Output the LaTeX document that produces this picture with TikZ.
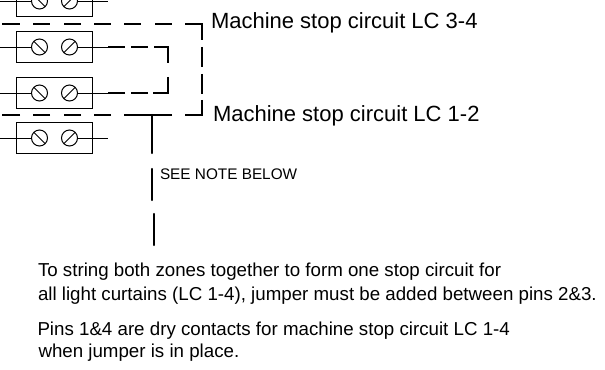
\documentclass[tikz,border=0pt]{standalone}
\usepackage{fontspec}
\setmainfont{Liberation Sans}
\tikzset{
 x=0.75pt,y=-0.75pt,
 blockbox/.style={draw,line width=0.75pt,minimum width=57pt,minimum height=23pt,inner sep=0pt,outer sep=0pt},
 screw/.style={draw,circle,line width=0.75pt,minimum size=12pt,inner sep=0pt,outer sep=0pt},
 wire/.style={line width=0.6pt},
 heavy/.style={line width=2.2pt},
 leader/.style={line width=1.6pt,line cap=round},
 lab/.style={inner sep=0pt,outer sep=0pt,anchor=base west,font=\fontsize{16.5pt}{18pt}\selectfont},
 small/.style={inner sep=0pt,outer sep=0pt,anchor=base west,font=\fontsize{11.5pt}{13pt}\selectfont},
 note/.style={inner sep=0pt,outer sep=0pt,anchor=base west,font=\fontsize{14.04pt}{16pt}\selectfont}
}
\newcommand{\termblock}[2]{%
 \node[blockbox] (b#1) at (54,#2) {};
 \node[screw] (l#1) at (39.5,#2) {};
 \node[screw] (r#1) at (69.5,#2) {};
 \coordinate (wl#1) at (0,#2);
 \coordinate (wr#1) at (108,#2);
 \draw[wire] (wl#1) -- (l#1);
 \draw[wire] (r#1) -- (wr#1);
 \draw[wire] (l#1.135) -- (l#1.-45);
 \draw[wire] (r#1.45) -- (r#1.-135);
}
\begin{document}
\begin{tikzpicture}
\useasboundingbox (0,0) rectangle (605,370);
\begin{scope}
\clip (0,0) rectangle (605,370);
\termblock{a}{1}
\end{scope}
\termblock{b}{47}
\termblock{c}{93}
\termblock{d}{138}
% outer dashed loop
\coordinate (tl) at (2,24);
\coordinate (tr) at (202,24);
\coordinate (br) at (202,115);
\coordinate (bl) at (2,115);
\draw[heavy,dash pattern=on 13.5pt off 9.75pt on 12.75pt off 10.5pt on 12.75pt off 9.75pt on 12.75pt off 9.75pt on 12.75pt off 10.5pt on 12.75pt off 9.75pt on 24.75pt off 5.25pt on 15pt off 5.25pt on 15pt off 4.5pt on 24pt off 9.75pt on 36pt off 9.75pt on 12.75pt off 9.75pt on 12.75pt off 10.5pt on 12.75pt off 9.75pt on 13.5pt off 30pt]
 (tl) -- (tr) -- (br) -- (bl);
% inner dashed jumper
\coordinate (ic1) at (168,47);
\coordinate (ic2) at (168,93);
\draw[heavy,dash pattern=on 12.75pt off 4.5pt on 12.75pt off 4.5pt on 22.5pt off 10.5pt on 23.25pt off 3.75pt on 12.75pt off 4.5pt on 13.5pt off 30pt]
 (wrb) -- (ic1) -- (ic2) -- (wrc);
% note leader
\coordinate (n0) at (152,115);
\coordinate (n1) at (152,153);
\coordinate (n2) at (152,169);
\coordinate (n3) at (152,200);
\coordinate (n4) at (154,214);
\coordinate (n5) at (154,245);
\draw[leader] (n0) -- (n1);
\draw[leader] (n2) -- (n3);
\draw[leader] (n4) -- (n5);
% labels
\node[lab] (t1) at (211,29) {Machine stop circuit LC 3-4};
\node[lab] (t2) at (213,122) {Machine stop circuit LC 1-2};
\node[small] (t3) at (160,180) {SEE NOTE BELOW};
\node[note] (t4) at (38,276) {To string both zones together to form one stop circuit for};
\node[note] (t5) at (38,300) {all light curtains (LC 1-4), jumper must be added between pins 2\&3.};
\node[note] (t6) at (37.5,335) {Pins 1\&4 are dry contacts for machine stop circuit LC 1-4};
\node[note] (t7) at (38.5,357) {when jumper is in place.};
\end{tikzpicture}
\end{document}
